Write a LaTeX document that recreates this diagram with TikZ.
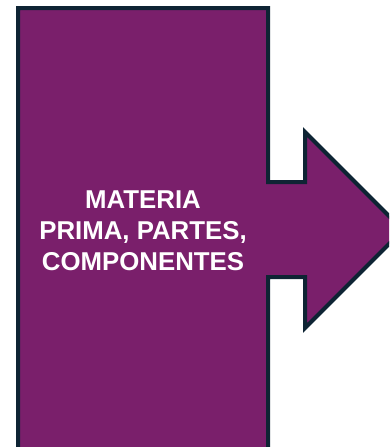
\documentclass[tikz,border=0pt]{standalone}
\usepackage{fontspec}
\setmainfont{Liberation Sans}
\usepackage{tikz}
\usetikzlibrary{positioning}
\usepackage{xcolor}
\definecolor{inpurple}{RGB}{122,31,107}
\definecolor{innavy}{RGB}{14,36,52}
\tikzstyle{inshape} = [fill=inpurple, draw=innavy, line width=4pt, line join=miter]
\tikzstyle{inlabel} = [text=white, align=center, font=\fontsize{25.8}{31}\selectfont\bfseries, inner sep=0pt]

\begin{document}
\begin{tikzpicture}[x=1pt, y=-1pt]
\useasboundingbox (0,0) rectangle (389,447);
\clip (0,0) rectangle (389,447);
% Input block with arrow
\draw[inshape] (18,470) -- (18,8) -- (268,8) -- (268,182) -- (305,182) -- (305,132)
  -- (403,230) -- (305,328) -- (305,277) -- (268,277) -- (268,470) -- cycle;
% Label
\node[inlabel] (input) at (143,230.5) {MATERIA\\PRIMA, PARTES,\\COMPONENTES};
\end{tikzpicture}
\end{document}
